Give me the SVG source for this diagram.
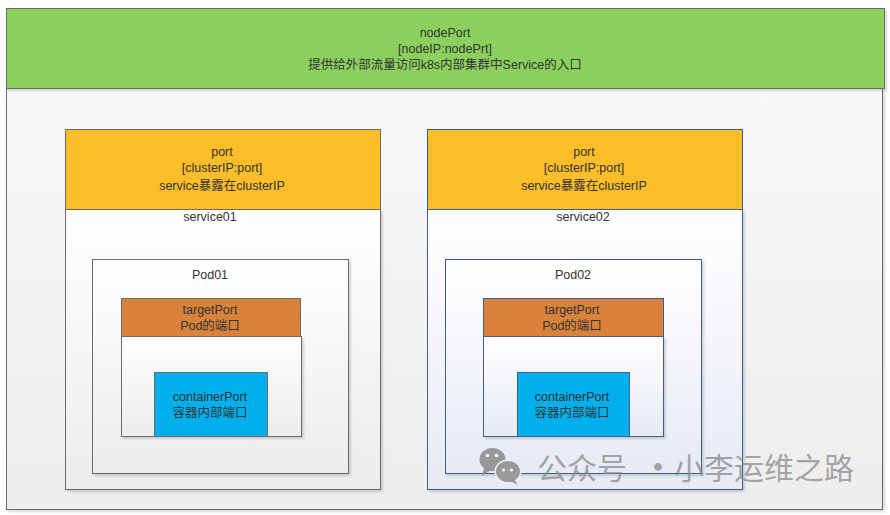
<svg xmlns="http://www.w3.org/2000/svg" width="890" height="515" viewBox="0 0 890 515">
<defs>
<style>
text{font-family:"Liberation Sans","Noto Sans CJK SC",sans-serif;font-size:12.5px;fill:#333;text-anchor:middle}
.gb{stroke:#6b6b6b;stroke-width:1}
.bb{stroke:#3d5f90;stroke-width:1}
.wm{font-size:30px;fill:#8a8a8a;fill-opacity:.75;text-anchor:start}
.dot{font-family:"Noto Sans CJK SC",sans-serif;font-size:30px;fill:#8a8a8a;fill-opacity:.75;text-anchor:middle;font-weight:bold}
</style>
<linearGradient id="gOuter" x1="0" y1="0" x2="0" y2="1"><stop offset="0" stop-color="#f8f8f8"/><stop offset="1" stop-color="#ededed"/></linearGradient>
<linearGradient id="gGray" x1="0" y1="0" x2="0" y2="1"><stop offset="0" stop-color="#ffffff"/><stop offset="1" stop-color="#ececec"/></linearGradient>
<linearGradient id="gBlue" x1="0" y1="0" x2="0" y2="1"><stop offset="0" stop-color="#ffffff"/><stop offset="1" stop-color="#e6eaf4"/></linearGradient>
<filter id="sh" x="-5%" y="-5%" width="110%" height="110%"><feDropShadow dx="2" dy="2" stdDeviation="1" flood-color="#000" flood-opacity="0.15"/></filter>
</defs>

<g id="node-cluster">
<rect x="6.5" y="88.5" width="876" height="421" fill="url(#gOuter)" class="gb" filter="url(#sh)"/>
<rect x="6.5" y="8.5" width="878" height="80" fill="#8bd05b" class="gb" filter="url(#sh)"/>
<text x="445" y="37">nodePort</text>
<text x="445" y="53">[nodeIP:nodePrt]</text>
<text x="445" y="69">提供给外部流量访问k8s内部集群中Service的入口</text>
</g>

<g id="node-service01">
<rect x="65.5" y="209.5" width="315" height="280" fill="url(#gGray)" class="gb" filter="url(#sh)"/>
<rect x="65.5" y="129.5" width="315" height="80" fill="#fbbd2a" class="gb"/>
<text x="222" y="156">port</text>
<text x="222" y="172">[clusterIP:port]</text>
<text x="222" y="190">service暴露在clusterIP</text>
<text x="210" y="221">service01</text>
</g>

<g id="node-pod01">
<rect x="92.5" y="259.5" width="256" height="214" fill="url(#gGray)" class="gb" filter="url(#sh)"/>
<text x="210" y="279">Pod01</text>
</g>

<g id="node-targetport01">
<rect x="121.5" y="336.5" width="180" height="100" fill="url(#gGray)" class="gb" filter="url(#sh)"/>
<rect x="121.5" y="298.5" width="179" height="38" fill="#d9823b" class="gb"/>
<text x="210" y="314">targetPort</text>
<text x="210" y="330">Pod的端口</text>
</g>

<g id="node-containerport01">
<rect x="154.5" y="372.5" width="113" height="64" fill="#00afec" class="gb"/>
<text x="210" y="401">containerPort</text>
<text x="210" y="417">容器内部端口</text>
</g>

<g id="node-service02">
<rect x="427.5" y="209.5" width="315" height="280" fill="url(#gBlue)" class="bb" filter="url(#sh)"/>
<rect x="427.5" y="129.5" width="315" height="80" fill="#fbbd2a" class="bb"/>
<text x="584" y="156">port</text>
<text x="584" y="172">[clusterIP:port]</text>
<text x="584" y="190">service暴露在clusterIP</text>
<text x="583" y="221">service02</text>
</g>

<g id="node-pod02">
<rect x="445.5" y="259.5" width="256" height="214" fill="url(#gBlue)" class="bb" filter="url(#sh)"/>
<text x="573" y="279">Pod02</text>
</g>

<g id="node-targetport02">
<rect x="483.5" y="336.5" width="180" height="100" fill="url(#gBlue)" class="bb" filter="url(#sh)"/>
<rect x="483.5" y="298.5" width="180" height="38" fill="#d9823b" class="bb"/>
<text x="572" y="314">targetPort</text>
<text x="572" y="330">Pod的端口</text>
</g>

<g id="node-containerport02">
<rect x="517.5" y="372.5" width="112" height="64" fill="#00afec" class="bb"/>
<text x="572" y="401">containerPort</text>
<text x="572" y="417">容器内部端口</text>
</g>

<g id="connectors"></g>

<g id="watermark">
<g fill="#8a8a8a" fill-opacity="0.85">
<ellipse cx="492.5" cy="459.5" rx="13" ry="11.5"/>
<path d="M484 468 L482 476 L491 470 Z"/>
</g>
<ellipse cx="508" cy="471.5" rx="13.5" ry="12" fill="#eef0f4"/>
<g fill="#8a8a8a" fill-opacity="0.85">
<ellipse cx="508" cy="471.5" rx="12" ry="10.5"/>
<path d="M514 479 L518 485 L510 481 Z"/>
</g>
<g fill="#f4f4f4">
<circle cx="487.5" cy="455.5" r="1.8"/><circle cx="496.5" cy="455.5" r="1.8"/>
<circle cx="503.5" cy="470" r="1.6"/><circle cx="511.5" cy="470" r="1.6"/>
</g>
<text class="wm" x="537" y="479">公众号</text>
<text class="dot" x="658" y="478">·</text>
<text class="wm" x="674" y="479">小李运维之路</text>
</g>
</svg>
